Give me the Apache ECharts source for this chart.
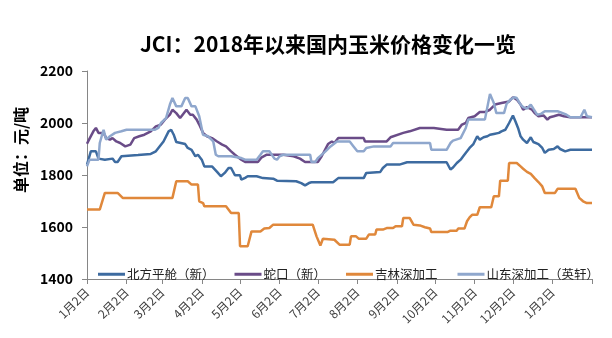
<!DOCTYPE html>
<html>
<head>
<meta charset="utf-8">
<script src="https://cdn.jsdelivr.net/npm/echarts@6/dist/echarts.min.js"></script>
<style>
html,body{margin:0;padding:0;background:#fff;}
#chart{width:612px;height:338px;}
</style>
</head>
<body>
<div id="chart"></div>
<script>
// x values are days since 2018-01-02
const xTickDays = [0,31,59,90,120,151,181,212,243,273,304,334,365,396];
const xTickLabels = ['1月2日','2月2日','3月2日','4月2日','5月2日','6月2日','7月2日','8月2日','9月2日','10月2日','11月2日','12月2日','1月2日'];
const yTicks = [1400,1600,1800,2000,2200];
const seriesNames = ['北方平舱（新）','蛇口（新）','吉林深加工','山东深加工（英轩）'];

const northData = [[0,1840],[3,1891],[7,1891],[9,1863],[14,1859],[20,1863],[22,1850],[24,1850],[27,1872],[40,1877],[50,1881],[54,1891],[60,1929],[64,1968],[66,1974],[68,1955],[70,1927],[77,1919],[79,1904],[82,1897],[85,1872],[87,1878],[90,1859],[92,1833],[98,1833],[102,1812],[105,1795],[108,1808],[111,1827],[113,1827],[116,1799],[120,1799],[121,1782],[124,1789],[126,1795],[133,1795],[138,1788],[146,1786],[149,1778],[164,1776],[168,1769],[171,1760],[174,1769],[176,1772],[193,1772],[197,1788],[217,1788],[219,1808],[230,1812],[232,1827],[235,1840],[245,1840],[251,1849],[282,1849],[285,1821],[287,1829],[290,1846],[293,1859],[295,1872],[298,1891],[300,1904],[303,1919],[306,1949],[308,1936],[311,1945],[314,1949],[316,1955],[319,1958],[323,1962],[325,1968],[328,1974],[331,2000],[334,2029],[336,2006],[338,1981],[340,1949],[342,1936],[345,1923],[348,1945],[350,1927],[354,1919],[357,1904],[359,1885],[362,1897],[366,1900],[369,1910],[371,1900],[375,1891],[379,1897],[396,1897]];

const shekouData = [[0,1920],[2,1940],[5,1968],[7,1981],[9,1962],[13,1962],[15,1942],[18,1936],[20,1942],[23,1929],[26,1923],[30,1910],[34,1917],[37,1942],[41,1949],[45,1955],[50,1968],[54,1987],[58,1994],[61,2013],[65,2032],[67,2051],[70,2038],[73,2019],[75,2032],[78,2051],[81,2032],[83,2032],[86,2013],[88,1994],[91,1962],[94,1949],[98,1942],[102,1929],[106,1917],[109,1910],[113,1891],[116,1878],[121,1859],[124,1850],[134,1850],[137,1868],[141,1878],[154,1878],[162,1872],[167,1863],[171,1850],[181,1850],[184,1872],[189,1919],[192,1929],[194,1923],[197,1942],[217,1942],[218,1929],[235,1929],[238,1945],[248,1962],[253,1968],[261,1981],[272,1981],[282,1974],[291,1974],[294,1994],[297,2000],[299,2019],[304,2026],[308,2042],[312,2042],[316,2051],[320,2071],[325,2077],[331,2083],[334,2099],[337,2090],[340,2071],[342,2051],[345,2061],[349,2051],[351,2038],[354,2026],[358,2029],[361,2013],[363,2022],[366,2026],[370,2032],[374,2026],[379,2022],[396,2022]];

const jilinData = [[0,1667],[10,1667],[14,1731],[24,1731],[28,1712],[67,1712],[70,1776],[79,1776],[82,1763],[87,1763],[88,1699],[91,1692],[92,1680],[109,1680],[113,1654],[119,1654],[120,1526],[126,1526],[129,1583],[136,1583],[139,1594],[143,1596],[146,1609],[177,1609],[180,1564],[183,1529],[185,1555],[194,1551],[198,1532],[206,1532],[207,1564],[211,1564],[213,1555],[219,1555],[221,1571],[226,1571],[227,1590],[232,1590],[235,1596],[240,1596],[242,1603],[247,1603],[248,1635],[253,1635],[256,1609],[261,1606],[265,1599],[269,1594],[270,1581],[283,1581],[285,1586],[290,1586],[291,1594],[296,1594],[298,1622],[300,1637],[302,1647],[306,1647],[308,1676],[317,1676],[319,1718],[323,1718],[324,1778],[330,1778],[331,1846],[337,1846],[340,1833],[342,1824],[345,1812],[348,1804],[351,1788],[354,1773],[357,1756],[359,1731],[367,1731],[369,1747],[383,1747],[386,1712],[389,1699],[392,1692],[396,1692]];

const shandongData = [[0,1833],[2,1859],[9,1859],[10,1923],[13,1974],[14,1981],[15,1936],[18,1949],[22,1962],[27,1968],[31,1974],[53,1974],[56,1981],[58,2000],[62,2019],[65,2071],[67,2096],[70,2064],[74,2064],[77,2096],[79,2096],[82,2064],[85,2064],[88,2026],[91,1955],[95,1949],[99,1929],[101,1878],[103,1872],[113,1872],[121,1865],[124,1859],[133,1859],[136,1878],[138,1891],[143,1891],[147,1863],[149,1859],[151,1872],[154,1878],[175,1878],[176,1850],[179,1850],[181,1865],[187,1891],[191,1910],[196,1929],[206,1929],[209,1910],[212,1891],[217,1891],[219,1904],[225,1910],[238,1910],[240,1923],[269,1923],[270,1897],[282,1897],[285,1923],[287,1932],[293,1942],[297,1981],[299,2013],[312,2013],[316,2112],[319,2077],[321,2038],[327,2038],[329,2073],[332,2090],[335,2099],[337,2096],[340,2071],[342,2061],[345,2055],[348,2071],[350,2055],[353,2032],[356,2035],[359,2045],[369,2045],[371,2042],[376,2032],[379,2022],[387,2022],[390,2051],[392,2026],[396,2022]];

const colors = ['#3d6ba0','#6a4c88','#e0883b','#8fa7cd'];
const FONT = '"Noto Sans CJK SC", "Noto Sans", sans-serif';

const chart = echarts.init(document.getElementById('chart'), null, {renderer:'canvas'});
const allData = [northData, shekouData, jilinData, shandongData];

chart.setOption({
  animation: false,
  color: colors,
  grid: {left: 87, right: 20, top: 71, bottom: 59, containLabel: false},
  graphic: [
    {type:'text', x:328, y:44, style:{text:'JCI：2018年以来国内玉米价格变化一览', font:'bold 21px ' + FONT, fill:'#000', textAlign:'center', textVerticalAlign:'middle'}},
    {type:'text', x:21, y:150, rotation:Math.PI/2, style:{text:'单位：元/吨', font:'bold 16px ' + FONT, fill:'#000', textAlign:'center', textVerticalAlign:'middle'}}
  ],
  legend: {
    data: seriesNames,
    icon: 'rect',
    left: 93, top: 263,
    itemWidth: 27, itemHeight: 3, itemGap: 20,
    textStyle: {fontSize: 12.5, color: '#222', fontFamily: FONT, padding:[0,0,0,-3]}
  },
  xAxis: {
    type: 'value', min: 0, max: 396,
    splitLine: {show:false},
    axisLine: {lineStyle:{color:'#868686', width:1}},
    axisTick: {show:true, customValues: xTickDays, length:5, inside:false, lineStyle:{color:'#868686'}},
    axisLabel: {
      customValues: xTickDays.slice(0, xTickLabels.length),
      rotate: 45, margin: 11, fontSize: 12, color: '#404040', fontFamily: FONT,
      formatter: function (v) { const i = xTickDays.indexOf(Math.round(v)); return i >= 0 && i < xTickLabels.length ? xTickLabels[i] : ''; }
    }
  },
  yAxis: {
    type: 'value', min: yTicks[0], max: yTicks[yTicks.length-1], interval: 200,
    splitLine: {show:false},
    axisLine: {show:true, lineStyle:{color:'#868686', width:1}},
    axisTick: {show:true, length:5, lineStyle:{color:'#868686'}},
    axisLabel: {fontSize: 14, fontWeight: 'bold', color: '#000', margin: 14, fontFamily: FONT,
      formatter: function (v) { return String(v); }}
  },
  series: seriesNames.map((n, i) => ({
    name: n, type: 'line', data: allData[i], symbol: 'none', showSymbol: false,
    lineStyle: {width: 2.5, color: colors[i]}, itemStyle: {color: colors[i]},
    z: [3,2,1,4][i]
  }))
});
</script>
</body>
</html>
